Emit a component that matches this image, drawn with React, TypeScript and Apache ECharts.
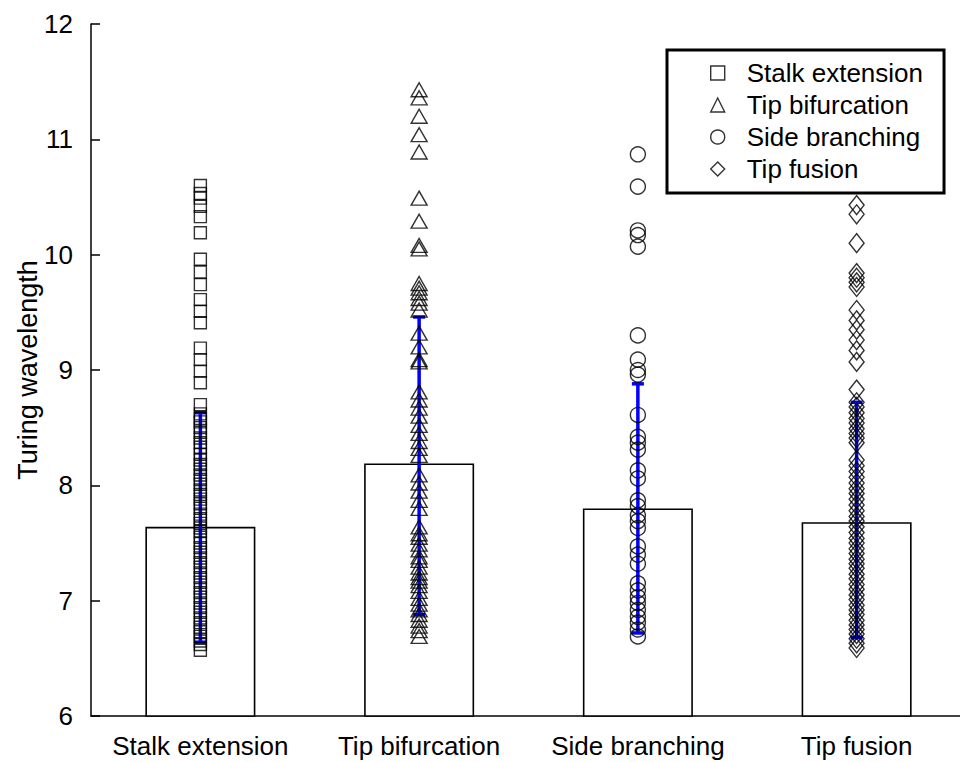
import React, { useEffect, useRef } from "react";
import * as echarts from "echarts";

const categories = ["Stalk extension", "Tip bifurcation", "Side branching", "Tip fusion"];
const barMeans = [7.64, 8.19, 7.8, 7.68];
const errLow = [6.64, 6.88, 6.72, 6.68];
const errHigh = [8.63, 9.46, 8.88, 8.72];
const yTicks = { min: 6, max: 12, interval: 1 };

const stalkValues = [
  10.6, 10.53, 10.49, 10.42, 10.33, 10.19,
  9.96, 9.85, 9.74, 9.61, 9.51, 9.41,
  9.19, 9.09, 8.99, 8.89, 8.7,
  8.62, 8.58, 8.55, 8.5, 8.46, 8.41, 8.37, 8.33, 8.27, 8.22, 8.18, 8.14, 8.09, 8.05,
  8.01, 7.96, 7.92, 7.88, 7.84, 7.8, 7.75, 7.71, 7.67, 7.63, 7.6, 7.55, 7.5, 7.46,
  7.42, 7.37, 7.33, 7.29, 7.24, 7.2, 7.16, 7.11, 7.07, 7.03, 6.98, 6.94, 6.9, 6.85,
  6.81, 6.77, 6.73, 6.69, 6.65, 6.62, 6.57,
];
const tipBifValues = [
  11.43, 11.36, 11.2, 11.04, 10.89, 10.49, 10.29, 10.08, 10.05,
  9.75, 9.71, 9.67, 9.62, 9.58, 9.52, 9.32, 9.2, 9.09, 9.07,
  8.81, 8.74, 8.67, 8.6, 8.52, 8.45, 8.38, 8.32, 8.26,
  8.09, 8.02, 7.95, 7.87, 7.8,
  7.64, 7.58, 7.55, 7.49, 7.44, 7.38, 7.35, 7.29, 7.24, 7.2, 7.17, 7.13, 7.08,
  7.02, 6.97, 6.92, 6.88, 6.83, 6.78, 6.74, 6.69,
];
const sideBranchValues = [
  10.87, 10.59, 10.21, 10.17, 10.07, 9.3, 9.09, 9.0, 8.96,
  8.61, 8.42, 8.37, 8.31, 8.13, 8.06, 7.87, 7.82, 7.74, 7.69, 7.63,
  7.47, 7.4, 7.32, 7.15, 7.09, 7.03, 6.98, 6.92, 6.86, 6.81, 6.75, 6.69,
];
const tipFusionValues = [
  10.43, 10.35, 10.1, 9.84, 9.8, 9.76, 9.72, 9.52, 9.43, 9.35, 9.26, 9.17, 9.07,
  8.83, 8.72, 8.68, 8.63, 8.58, 8.54, 8.49, 8.45, 8.41, 8.37,
  8.22, 8.17, 8.12, 8.07, 8.02, 7.97, 7.93, 7.88, 7.83, 7.78, 7.73, 7.69, 7.64,
  7.59, 7.54, 7.5, 7.45, 7.41, 7.36, 7.32, 7.28, 7.23, 7.19, 7.14, 7.1, 7.05,
  7.01, 6.96, 6.92, 6.88, 6.83, 6.79, 6.75, 6.71, 6.67, 6.63, 6.59,
];

const FONT = "'Liberation Sans', Arial, sans-serif";

export default function App() {
  const ref = useRef<HTMLDivElement>(null);
  useEffect(() => {
    if (!ref.current) return;
    const chart = echarts.init(ref.current, null, { renderer: "svg" });
    const hollow = { color: "transparent", borderColor: "#000", borderWidth: 1.4 };
    const groups = [
      { vals: stalkValues, symbol: "rect", size: [12, 12] },
      { vals: tipBifValues, symbol: "triangle", size: [16, 14] },
      { vals: sideBranchValues, symbol: "circle", size: 15 },
      { vals: tipFusionValues, symbol: "diamond", size: [15, 19] },
    ];
    const scatterSeries = groups.map((g, i) => ({
      type: "scatter",
      name: categories[i],
      symbol: g.symbol,
      symbolSize: g.size,
      itemStyle: hollow,
      z: 4,
      data: g.vals.map((v) => [categories[i], v]),
    }));
    chart.setOption({
      animation: false,
      backgroundColor: "#fff",
      grid: { left: 91, right: -6, top: 24, bottom: 46, outerBoundsMode: "none" },
      legend: {
        data: categories.map((c, i) => ({
          name: c,
          icon: groups[i].symbol,
          itemStyle: hollow,
        })),
        orient: "vertical",
        left: 667,
        top: 50,
        padding: [10, 21, 11, 43],
        itemWidth: 14,
        itemHeight: 14,
        itemGap: 6,
        borderColor: "#000",
        borderWidth: 3,
        backgroundColor: "#fff",
        textStyle: { fontFamily: FONT, fontSize: 26, color: "#000", lineHeight: 24, padding: [0, 0, 0, 17] },
      },
      xAxis: {
        type: "category",
        data: categories,
        axisLine: { lineStyle: { color: "#000", width: 1.5 } },
        axisTick: { show: false },
        axisLabel: { fontFamily: FONT, fontSize: 26, color: "#000", margin: 17, interval: 0 },
      },
      yAxis: {
        type: "value",
        min: yTicks.min,
        max: yTicks.max,
        interval: yTicks.interval,
        name: "Turing wavelength",
        nameLocation: "middle",
        nameGap: 50,
        nameMoveOverlap: false,
        nameTextStyle: { fontFamily: FONT, fontSize: 27, color: "#000" },
        axisLine: { show: true, lineStyle: { color: "#000", width: 1.5 } },
        axisTick: { show: true, inside: true, length: 9, lineStyle: { color: "#000", width: 1.5 } },
        axisLabel: { fontFamily: FONT, fontSize: 26, color: "#000", margin: 18 },
        splitLine: { show: false },
      },
      series: [
        {
          type: "bar",
          data: barMeans,
          barWidth: 110,
          itemStyle: { color: "#fff", borderColor: "#000", borderWidth: 1.6 },
          z: 2,
        },
        {
          type: "custom",
          z: 3,
          data: categories.map((c, i) => [i, errLow[i], errHigh[i]]),
          encode: { x: 0, y: [1, 2] },
          renderItem: (params: any, api: any) => {
            const x = api.value(0);
            const lo = api.coord([x, api.value(1)]);
            const hi = api.coord([x, api.value(2)]);
            const cap = 6;
            const st = { stroke: "#0000ff", lineWidth: 3.5 };
            return {
              type: "group",
              children: [
                { type: "line", shape: { x1: lo[0], y1: lo[1], x2: hi[0], y2: hi[1] }, style: st },
                { type: "line", shape: { x1: lo[0] - cap, y1: lo[1], x2: lo[0] + cap, y2: lo[1] }, style: st },
                { type: "line", shape: { x1: hi[0] - cap, y1: hi[1], x2: hi[0] + cap, y2: hi[1] }, style: st },
              ],
            };
          },
        },
        ...scatterSeries,
      ],
    });
    return () => chart.dispose();
  }, []);
  return (
    <div
      ref={ref}
      style={{ position: "absolute", left: 0, top: 0, width: 960, height: 762 }}
    />
  );
}
